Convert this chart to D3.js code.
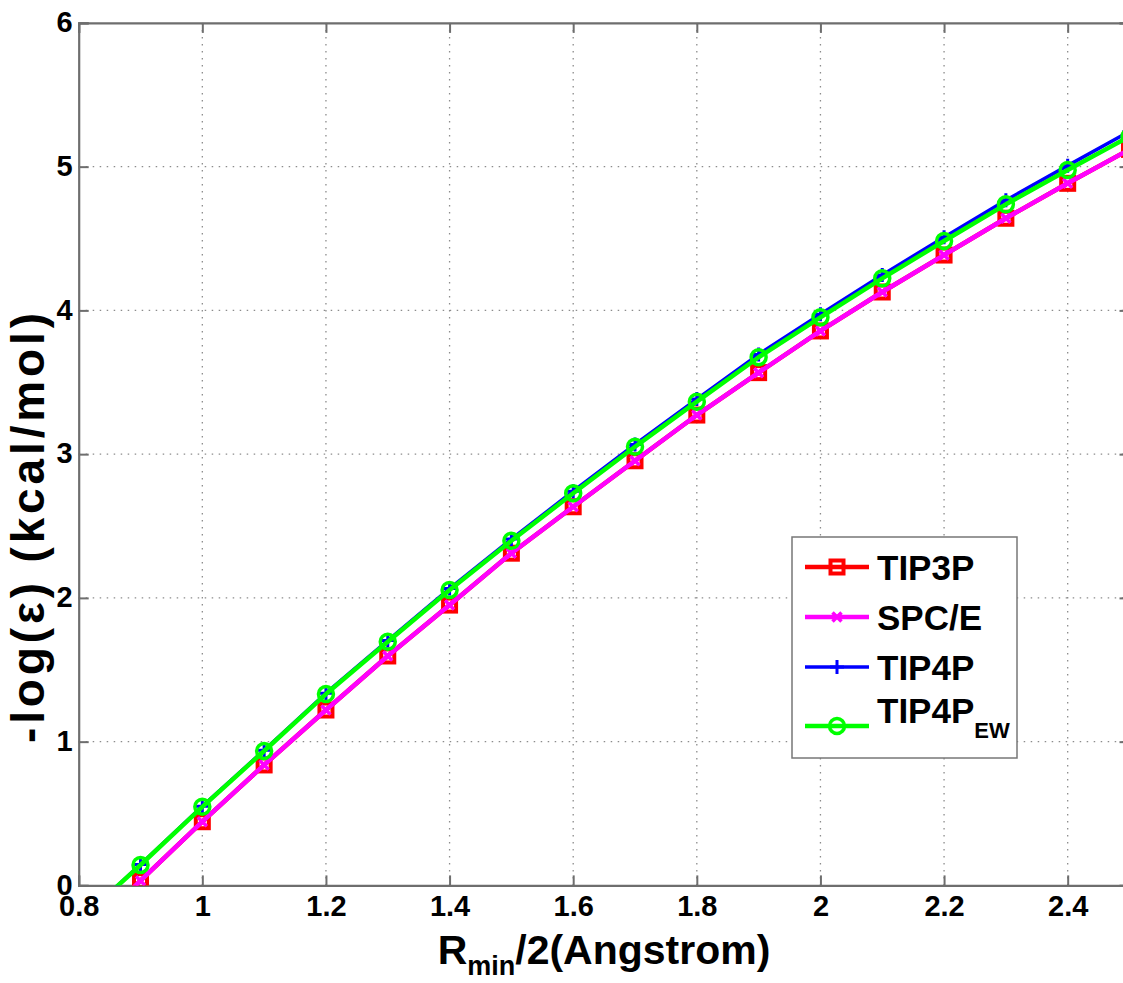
<!DOCTYPE html>
<html>
<head>
<meta charset="utf-8">
<script src="https://cdn.jsdelivr.net/npm/d3@7"></script>
<style>
  html, body { margin: 0; padding: 0; background: #fff; }
  svg { display: block; font-family: "Liberation Sans", Arial, Helvetica, sans-serif; }
</style>
</head>
<body>
<svg id="chart" width="1123" height="983"></svg>
<script>
// Rmin/2 sample positions (Angstrom)
const rHalf = [0.8, 0.9, 1.0, 1.1, 1.2, 1.3, 1.4, 1.5, 1.6, 1.7, 1.8, 1.9, 2.0, 2.1, 2.2, 2.3, 2.4, 2.5];

// -log(epsilon) for each water model
const tip3p   = [-0.39, 0.033, 0.443, 0.838, 1.220, 1.596, 1.950, 2.311, 2.634, 2.954, 3.272, 3.567, 3.857, 4.128, 4.385, 4.641, 4.884, 5.120];
const spce    = [-0.39, 0.033, 0.443, 0.838, 1.220, 1.596, 1.950, 2.311, 2.634, 2.954, 3.272, 3.567, 3.857, 4.128, 4.385, 4.641, 4.884, 5.120];
const tip4p   = [-0.25, 0.145, 0.550, 0.940, 1.337, 1.703, 2.065, 2.409, 2.742, 3.068, 3.383, 3.694, 3.974, 4.247, 4.509, 4.766, 5.007, 5.245];
const tip4pew = [-0.25, 0.142, 0.547, 0.935, 1.331, 1.695, 2.055, 2.397, 2.728, 3.052, 3.365, 3.674, 3.952, 4.223, 4.483, 4.738, 4.977, 5.210];

const xTicks = [0.8, 1, 1.2, 1.4, 1.6, 1.8, 2, 2.2, 2.4];
const yTicks = [0, 1, 2, 3, 4, 5, 6];

const series = [
  { name: "TIP3P", values: tip3p,   color: "#ff0000", marker: "square", width: 4.5 },
  { name: "SPC/E", values: spce,    color: "#ff00ff", marker: "cross",  width: 4.5 },
  { name: "TIP4P", values: tip4p,   color: "#0000ff", marker: "plus",   width: 3.5 },
  { name: "TIP4P", sub: "EW", values: tip4pew, color: "#00ff00", marker: "circle", width: 4.5 }
];

const svg = d3.select("#chart");
svg.append("rect").attr("width", 1123).attr("height", 983).attr("fill", "#fff");

const plot = { left: 78.7, top: 22.9, right: 1129.5, bottom: 885.4 };
const x = d3.scaleLinear().domain([0.8, 2.5]).range([plot.left, plot.right]);
const y = d3.scaleLinear().domain([0, 6]).range([plot.bottom, plot.top]);

svg.append("defs").append("clipPath").attr("id", "plotClip")
  .append("rect")
  .attr("x", plot.left).attr("y", plot.top)
  .attr("width", plot.right - plot.left).attr("height", plot.bottom - plot.top);

// dotted grid
const grid = svg.append("g").attr("class", "grid")
  .attr("stroke", "#8c8c8c").attr("stroke-width", 1.3).attr("stroke-dasharray", "1.5,5.5");
grid.selectAll("line.vx").data(xTicks.slice(1)).join("line")
  .attr("x1", d => x(d)).attr("x2", d => x(d))
  .attr("y1", plot.top).attr("y2", plot.bottom);
grid.selectAll("line.hy").data(yTicks.slice(1, -1)).join("line")
  .attr("x1", plot.left).attr("x2", plot.right)
  .attr("y1", d => y(d)).attr("y2", d => y(d));

// axes with inward ticks on all four sides
const axisColor = "#6e6e6e";
const tickLen = 10;
const gx = svg.append("g").attr("transform", `translate(0,${plot.bottom})`)
  .call(d3.axisBottom(x).tickValues(xTicks).tickSize(-tickLen).tickPadding(22)
    .tickFormat(d => d3.format("~g")(d)));
const gxTop = svg.append("g").attr("transform", `translate(0,${plot.top})`)
  .call(d3.axisTop(x).tickValues(xTicks).tickSize(-tickLen).tickFormat(""));
const gy = svg.append("g").attr("transform", `translate(${plot.left},0)`)
  .call(d3.axisLeft(y).tickValues(yTicks).tickSize(-tickLen).tickPadding(6)
    .tickFormat(d3.format("d")));
const gyRight = svg.append("g").attr("transform", `translate(${plot.right},0)`)
  .call(d3.axisRight(y).tickValues(yTicks).tickSize(-tickLen).tickFormat(""));

[gx, gxTop, gy, gyRight].forEach(g => {
  g.select(".domain").attr("stroke", axisColor).attr("stroke-width", 2.2);
  g.selectAll(".tick line").attr("stroke", axisColor).attr("stroke-width", 2);
  g.selectAll(".tick text")
    .attr("fill", "#000").attr("font-size", 29).attr("font-weight", "bold")
    .attr("font-family", "'Liberation Sans', Arial, sans-serif");
});
gx.selectAll(".tick text").attr("dy", "0.28em");
gy.selectAll(".tick text").attr("dy", "0.3em");

// data lines and markers
const line = d3.line().x((d, i) => x(rHalf[i])).y(d => y(d));
const dataLayer = svg.append("g").attr("clip-path", "url(#plotClip)");

function drawMarker(g, type, color, cx, cy) {
  if (type === "square") {
    g.append("rect").attr("x", cx - 6.5).attr("y", cy - 6.5).attr("width", 13).attr("height", 13)
      .attr("fill", "none").attr("stroke", color).attr("stroke-width", 4);
  } else if (type === "cross") {
    const s = 4.5;
    g.append("path").attr("d", `M${cx - s},${cy - s}L${cx + s},${cy + s}M${cx - s},${cy + s}L${cx + s},${cy - s}`)
      .attr("stroke", color).attr("stroke-width", 3.5).attr("fill", "none");
  } else if (type === "plus") {
    const s = 7;
    g.append("path").attr("d", `M${cx - s},${cy}L${cx + s},${cy}M${cx},${cy - s}L${cx},${cy + s}`)
      .attr("stroke", color).attr("stroke-width", 3).attr("fill", "none");
  } else if (type === "circle") {
    g.append("circle").attr("cx", cx).attr("cy", cy).attr("r", 7.5)
      .attr("fill", "none").attr("stroke", color).attr("stroke-width", 3.5);
  }
}

series.forEach(s => {
  const g = dataLayer.append("g");
  g.append("path").datum(s.values).attr("d", line)
    .attr("fill", "none").attr("stroke", s.color).attr("stroke-width", s.width)
    .attr("stroke-linejoin", "round");
  s.values.forEach((v, i) => drawMarker(g, s.marker, s.color, x(rHalf[i]), y(v)));
});

// legend
const legend = svg.append("g");
legend.append("rect").attr("x", 792).attr("y", 537).attr("width", 225).attr("height", 221)
  .attr("fill", "#fff").attr("stroke", "#777").attr("stroke-width", 1.5);
const legendRows = [567, 617, 667, 726];
series.forEach((s, i) => {
  const ly = legendRows[i];
  const g = legend.append("g");
  g.append("line").attr("x1", 805).attr("x2", 869).attr("y1", ly).attr("y2", ly)
    .attr("stroke", s.color).attr("stroke-width", s.width);
  drawMarker(g, s.marker, s.color, 837, ly);
  const t = g.append("text").attr("x", 877)
    .attr("y", s.sub ? ly - 3 : ly + 13)
    .attr("font-size", 35).attr("font-weight", "bold").attr("fill", "#000")
    .text(s.name);
  if (s.sub) {
    t.append("tspan").attr("font-size", 22).attr("dy", 15).text(s.sub);
  }
});

// axis titles
const xt = svg.append("text").attr("x", 604).attr("y", 964).attr("text-anchor", "middle")
  .attr("font-size", 41).attr("font-weight", "bold").attr("fill", "#000");
xt.append("tspan").text("R");
xt.append("tspan").attr("font-size", 27).attr("dy", 11).text("min");
xt.append("tspan").attr("dy", -11).text("/2(Angstrom)");

svg.append("text")
  .attr("transform", "translate(44,528) rotate(-90)")
  .attr("text-anchor", "middle")
  .attr("font-size", 46).attr("font-weight", "bold").attr("fill", "#000")
  .attr("textLength", 430).attr("lengthAdjust", "spacing")
  .text("-log(\u03b5) (kcal/mol)");
</script>
</body>
</html>
